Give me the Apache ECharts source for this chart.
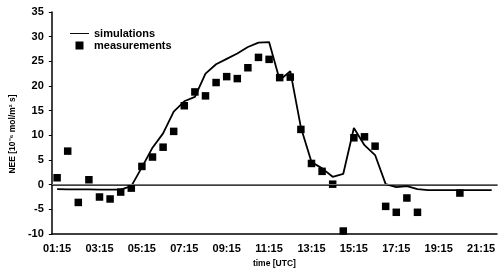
<!DOCTYPE html>
<html>
<head>
<meta charset="utf-8">
<script src="https://cdn.jsdelivr.net/npm/echarts@6/dist/echarts.min.js"></script>
<style>
  html, body { margin: 0; padding: 0; background: #fff; }
  #chart { width: 498px; height: 273px; }
</style>
</head>
<body>
<div id="chart"></div>
<script>
// half-hourly time steps (category axis, Excel-style "between tick marks")
const times = [
    '01:15', '01:45', '02:15', '02:45', '03:15', '03:45', '04:15', '04:45',
    '05:15', '05:45', '06:15', '06:45', '07:15', '07:45', '08:15', '08:45',
    '09:15', '09:45', '10:15', '10:45', '11:15', '11:45', '12:15', '12:45',
    '13:15', '13:45', '14:15', '14:45', '15:15', '15:45', '16:15', '16:45',
    '17:15', '17:45', '18:15', '18:45', '19:15', '19:45', '20:15', '20:45',
    '21:15', '21:45'
];

const simulations = [
    -0.9, -0.95, -0.95, -0.95, -1.0, -1.0, -1.0, -0.3,
    3.5, 7.5, 10.4, 14.8, 16.9, 17.8, 22.5, 24.4,
    25.5, 26.6, 27.9, 28.8, 28.9, 21.2, 23.0, 11.6,
    4.6, 3.3, 1.6, 2.2, 11.5, 8.0, 6.0, 0.1,
    -0.5, -0.3, -0.9, -1.1, -1.1, -1.1, -1.1, -1.1,
    -1.1, -1.1
];

const measurements = [
    1.4, 6.8, -3.6, 1.0, -2.5, -2.9, -1.5, -0.7,
    3.7, 5.6, 7.6, 10.8, 16.0, 18.8, 18.0, 20.7,
    21.9, 21.5, 23.7, 25.8, 25.4, 21.7, 21.8, 11.2,
    4.3, 2.7, 0.1, -9.4, 9.5, 9.7, 7.8, -4.4,
    -5.6, -2.7, -5.6, null, null, null, -1.7, null,
    null, null
];

const chart = echarts.init(document.getElementById('chart'));
const font = 'Liberation Sans, Arial, sans-serif';

chart.setOption({
    animation: false,
    backgroundColor: '#fff',
    textStyle: { fontFamily: font },
    grid: { left: 49, right: -3, top: 12, bottom: 36 },
    legend: {
        orient: 'vertical',
        left: 65,
        top: 23,
        itemWidth: 19,
        itemHeight: 8,
        itemGap: 1,
        textStyle: { fontSize: 11, fontWeight: 'bold', color: '#000', fontFamily: font },
        data: [
            { name: 'simulations', icon: 'path://M0,0H20V1H0Z' },
            { name: 'measurements', icon: 'path://M0,0H1V1H0Z' }
        ]
    },
    xAxis: [
        {
            type: 'category',
            data: times,
            boundaryGap: true,
            name: 'time [UTC]',
            nameLocation: 'middle',
            nameGap: 25,
            nameTextStyle: { fontSize: 8.5, fontWeight: 'bold', color: '#000', fontFamily: font },
            axisLine: { onZero: false, lineStyle: { color: '#000', width: 1.5 } },
            axisTick: { interval: 1, length: 4, lineStyle: { color: '#000' } },
            axisLabel: { interval: 3, margin: 9, fontSize: 11, fontWeight: 'bold', color: '#000', fontFamily: font },
            splitLine: { show: false }
        },
        {
            type: 'category',
            data: times,
            position: 'top',
            axisLine: { lineStyle: { color: '#000', width: 1.5 } },
            axisTick: { show: false },
            axisLabel: { show: false }
        }
    ],
    yAxis: {
        type: 'value',
        min: -10,
        max: 35,
        interval: 5,
        name: 'NEE [10⁻⁶ mol/m² s]',
        nameLocation: 'middle',
        nameGap: 31,
        nameTextStyle: {
            fontSize: 8.5, fontWeight: 'bold', color: '#000', fontFamily: font,
            padding: [0, 22, 0, 0]
        },
        axisLine: { show: true, lineStyle: { color: '#000', width: 1.5 } },
        axisTick: { show: true, length: 3, lineStyle: { color: '#000' } },
        axisLabel: { margin: 8, fontSize: 11, fontWeight: 'bold', color: '#000', fontFamily: font },
        splitLine: { show: false }
    },
    series: [
        {
            name: 'simulations',
            type: 'line',
            data: simulations,
            symbol: 'none',
            lineStyle: { color: '#000', width: 1.8 },
            itemStyle: { color: '#000' },
            markLine: {
                silent: true,
                symbol: 'none',
                label: { show: false },
                lineStyle: { color: '#777', width: 1, type: 'solid' },
                data: [{ yAxis: 0 }]
            },
            z: 2
        },
        {
            name: 'measurements',
            type: 'scatter',
            data: measurements,
            symbol: 'rect',
            symbolSize: 7.5,
            itemStyle: { color: '#000', opacity: 1 },
            z: 3
        }
    ]
});
</script>
</body>
</html>
